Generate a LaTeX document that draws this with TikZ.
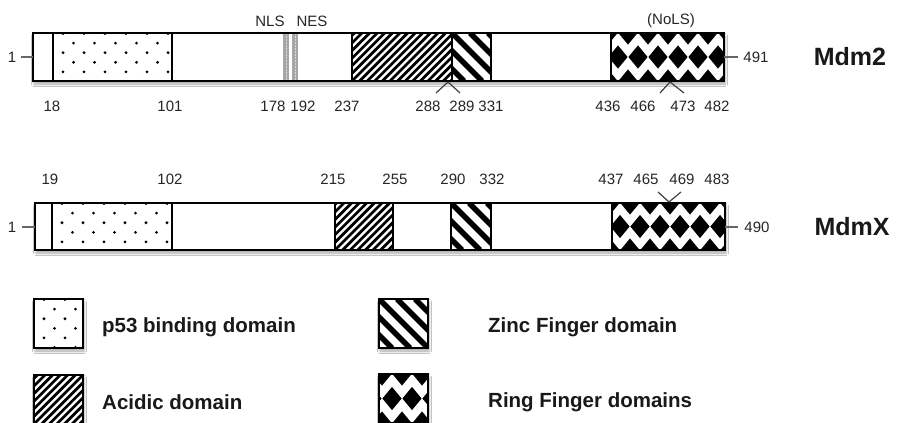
\documentclass[tikz,border=0pt]{standalone}
\usepackage{fontspec}
\setmainfont{Liberation Sans}
\usetikzlibrary{shadows.blur}

\newcommand\pfdots[4]{%
  \begin{scope}
    \clip (#1,#2) rectangle (#3,#4);
    \foreach \j in {0,...,6}{%
      \pgfmathsetmacro\pfoff{mod(\j,2)*10.5}
      \foreach \i in {-1,...,7}{%
        \fill (#1+10-\pfoff+21*\i, #2+0.5+9.6*\j) circle (1.55pt);
      }}
  \end{scope}}

\newcommand\pfacid[4]{%
  \begin{scope}
    \clip (#1,#2) rectangle (#3,#4);
    \pgfmathsetmacro\pfh{#4-#2}
    \foreach \k in {-10,...,18}{%
      \draw[line width=2.7pt] (#1+7.6*\k, #4) -- ++(\pfh,-\pfh);
    }
  \end{scope}}

\newcommand\pfzinc[4]{%
  \begin{scope}
    \clip (#1,#2) rectangle (#3,#4);
    \pgfmathsetmacro\pfh{#4-#2}
    \foreach \k in {-4,...,4}{%
      \draw[line width=5.5pt] (#1+18*\k, #2) -- ++(\pfh,\pfh);
    }
  \end{scope}}

\newcommand\pfring[5]{%
  \begin{scope}
    \clip (#1,#2) rectangle (#3,#4);
    \pgfmathsetmacro\pfm{(#2+#4)/2}
    \foreach \i in {-1,...,7}{%
      \fill (#1+#5+20*\i, \pfm) +(-9.6,0) -- +(0,-11.6) -- +(9.6,0) -- +(0,11.6) -- cycle;
      \fill (#1+#5-10+20*\i, #2) +(-9.6,0) -- +(0,-11.6) -- +(9.6,0) -- +(0,11.6) -- cycle;
      \fill (#1+#5-10+20*\i, #4) +(-9.6,0) -- +(0,-11.6) -- +(9.6,0) -- +(0,11.6) -- cycle;
    }
  \end{scope}}

\tikzset{
  barframe/.style={draw=black, line width=2pt},
  divider/.style={line width=2pt},
  shad/.style={blur shadow={shadow xshift=1pt, shadow yshift=-3pt, shadow blur radius=2.5pt, shadow opacity=35}},
  num/.style={font=\fontsize{15}{18}\selectfont, text=black!85, inner sep=0pt},
  lgd/.style={font=\fontsize{20.5}{24}\selectfont\bfseries, text=black!90, anchor=west, inner sep=0pt},
  pname/.style={font=\fontsize{25}{30}\selectfont\bfseries, text=black!90, inner sep=0pt},
  tickln/.style={draw=black!75, line width=1.2pt},
  endln/.style={draw=black!60, line width=1.2pt},
  nlsfill/.style={fill=gray!70},
}

\begin{document}
\begin{tikzpicture}[x=1pt,y=-1pt]
\useasboundingbox[fill=white] (0,0) rectangle (898,423);

% ---------------- Mdm2 ----------------
\fill[white, shad] (33,33) rectangle (724,81);
\pfdots{53}{33}{172}{81}
\fill[nlsfill] (283,33) rectangle (289,81);
\fill[nlsfill] (292,33) rectangle (298,81);
\draw[gray!30, line width=1pt, dash pattern=on 1.5pt off 1.5pt] (286,33) -- (286,81);
\draw[gray!30, line width=1pt, dash pattern=on 1.5pt off 1.5pt] (295,33) -- (295,81);
\pfacid{352}{33}{452}{81}
\pfzinc{452}{33}{491}{81}
\pfring{611}{33}{724}{81}{7}
\foreach \x in {53,172,352,452,491,611} \draw[divider] (\x,33) -- (\x,81);
\draw[barframe] (33,33) rectangle (724,81);

\coordinate (m2l) at (33,57);
\coordinate (m2r) at (724,57);
\node[num] (m2one) at (12,57) {1};
\draw[endln] (21,57) -- (m2l);
\node[num] (m2end) at (756,57) {491};
\draw[endln] (m2r) -- (738,57);
\node[pname] (mdm2) at (850,57) {Mdm2};

\node[num] (nls) at (270,21) {NLS};
\node[num] (nes) at (312,21) {NES};
\node[num] (nols) at (671,21) {(NoLS)};

\node[num] (a18) at (52,106) {18};
\node[num] (a101) at (170,106) {101};
\node[num] (a178) at (273,106) {178};
\node[num] (a192) at (303,106) {192};
\node[num] (a237) at (347,106) {237};
\node[num] (a288) at (428,106) {288};
\node[num] (a289) at (462,106) {289};
\node[num] (a331) at (491,106) {331};
\node[num] (a436) at (608,106) {436};
\node[num] (a466) at (643,106) {466};
\node[num] (a473) at (683,106) {473};
\node[num] (a482) at (717,106) {482};

\coordinate (t1) at (448,82);
\draw[tickln] (t1) -- (436,93);
\draw[tickln] (t1) -- (460,93);
\coordinate (t2) at (670,82);
\draw[tickln] (t2) -- (660,93);
\draw[tickln] (t2) -- (684,93);

% ---------------- MdmX ----------------
\fill[white, shad] (35,203) rectangle (725,250);
\pfdots{52}{203}{172}{250}
\pfacid{335}{203}{393}{250}
\pfzinc{451}{203}{491}{250}
\pfring{612}{203}{725}{250}{8}
\foreach \x in {52,172,335,393,451,491,612} \draw[divider] (\x,203) -- (\x,250);
\draw[barframe] (35,203) rectangle (725,250);

\coordinate (mxl) at (35,227);
\coordinate (mxr) at (725,227);
\node[num] (mxone) at (12,227) {1};
\draw[endln] (22,227) -- (mxl);
\node[num] (mxend) at (757,227) {490};
\draw[endln] (mxr) -- (738,227);
\node[pname] (mdmx) at (852,227) {MdmX};

\node[num] (b19) at (50,179) {19};
\node[num] (b102) at (170,179) {102};
\node[num] (b215) at (333,179) {215};
\node[num] (b255) at (395,179) {255};
\node[num] (b290) at (453,179) {290};
\node[num] (b332) at (492,179) {332};
\node[num] (b437) at (611,179) {437};
\node[num] (b465) at (646,179) {465};
\node[num] (b469) at (682,179) {469};
\node[num] (b483) at (717,179) {483};

\coordinate (t3) at (669,202);
\draw[tickln] (t3) -- (658,192);
\draw[tickln] (t3) -- (681,192);

% ---------------- Legend ----------------
\fill[white, shad] (34,299) rectangle (83,348);
\pfdots{34}{299}{83}{348}
\draw[barframe] (34,299) rectangle (83,348);
\node[lgd] (lp53) at (102,327) {p53 binding domain};

\fill[white, shad] (34,375) rectangle (83,424);
\pfacid{34}{375}{83}{424}
\draw[barframe] (34,375) rectangle (83,424);
\node[lgd] (lacid) at (102,402) {Acidic domain};

\fill[white, shad] (379,299) rectangle (428,348);
\pfzinc{379}{299}{428}{348}
\draw[barframe] (379,299) rectangle (428,348);
\node[lgd] (lzinc) at (488,327) {Zinc Finger domain};

\fill[white, shad] (379,374) rectangle (428,423);
\pfring{379}{374}{428}{423}{13}
\draw[barframe] (379,374) rectangle (428,423);
\node[lgd] (lring) at (488,402) {Ring Finger domains};
\end{tikzpicture}
\end{document}
